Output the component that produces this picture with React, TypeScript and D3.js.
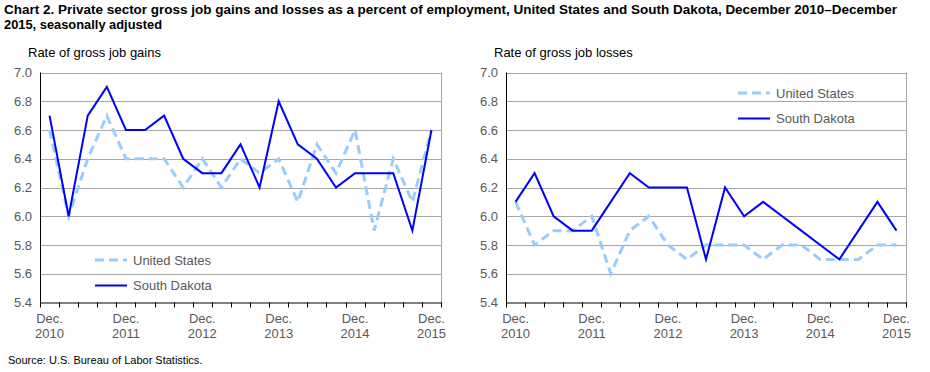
import { scaleBand, scaleLinear, line } from "d3";

const quarters = [
    "Dec. 2010", "Mar. 2011", "Jun. 2011", "Sep. 2011",
    "Dec. 2011", "Mar. 2012", "Jun. 2012", "Sep. 2012",
    "Dec. 2012", "Mar. 2013", "Jun. 2013", "Sep. 2013",
    "Dec. 2013", "Mar. 2014", "Jun. 2014", "Sep. 2014",
    "Dec. 2014", "Mar. 2015", "Jun. 2015", "Sep. 2015",
    "Dec. 2015",
];

const gainsUS = [6.6, 6.0, 6.4, 6.7, 6.4, 6.4, 6.4, 6.2, 6.4, 6.2, 6.4, 6.3, 6.4, 6.1, 6.5, 6.3, 6.6, 5.9, 6.4, 6.1, 6.6];
const gainsSD = [6.7, 6.0, 6.7, 6.9, 6.6, 6.6, 6.7, 6.4, 6.3, 6.3, 6.5, 6.2, 6.8, 6.5, 6.4, 6.2, 6.3, 6.3, 6.3, 5.9, 6.6];
const lossesUS = [6.1, 5.8, 5.9, 5.9, 6.0, 5.6, 5.9, 6.0, 5.8, 5.7, 5.8, 5.8, 5.8, 5.7, 5.8, 5.8, 5.7, 5.7, 5.7, 5.8, 5.8];
const lossesSD = [6.1, 6.3, 6.0, 5.9, 5.9, 6.1, 6.3, 6.2, 6.2, 6.2, 5.7, 6.2, 6.0, 6.1, 6.0, 5.9, 5.8, 5.7, 5.9, 6.1, 5.9];

const yTicks = [5.4, 5.6, 5.8, 6.0, 6.2, 6.4, 6.6, 6.8, 7.0];

const US_COLOR = "#99CCFF";
const SD_COLOR = "#0000FF";
const TEXT_GRAY = "#595959";
const FONT = "'Liberation Sans', Arial, sans-serif";

interface PanelProps {
    x0: number;
    x1: number;
    title: string;
    us: number[];
    sd: number[];
    legendX: number;
    legendY: number;
}

const Panel = ({ x0, x1, title, us, sd, legendX, legendY }: PanelProps) => {
    const top = 72.5;
    const bottom = 302.5;
    const scaleX = scaleBand<string>().domain(quarters).range([x0, x1]).padding(0);
    const scaleY = scaleLinear().domain([5.4, 7.0]).range([bottom, top]);
    const cx = (q: string) => (scaleX(q) ?? 0) + scaleX.bandwidth() / 2;
    const path = line<number>()
        .x((_, i) => cx(quarters[i]))
        .y((d) => scaleY(d));

    const boundaries = quarters.map((q) => scaleX(q) ?? 0).concat([x1]);

    return (
        <g fontFamily={FONT}>
            <text x={x0 - 12} y={57} fontSize={13} fill="#000">{title}</text>
            {yTicks.filter((t) => t > 5.4).map((t) => (
                <line key={`g-${t}`} x1={x0} x2={x1} y1={Math.round(scaleY(t)) + 0.5} y2={Math.round(scaleY(t)) + 0.5} stroke="#A6A6A6" strokeWidth={1} />
            ))}
            <line x1={x1 + 0.5} x2={x1 + 0.5} y1={top} y2={bottom} stroke="#A6A6A6" strokeWidth={1} />
            {yTicks.map((t) => (
                <text key={`yl-${t}`} x={x0 - 8} y={scaleY(t)} dy="0.35em" textAnchor="end" fontSize={13} fill={TEXT_GRAY}>
                    {t.toFixed(1)}
                </text>
            ))}
            {boundaries.map((b, i) => (
                <line key={`t-${i}`} x1={Math.round(b) + 0.5} x2={Math.round(b) + 0.5} y1={bottom} y2={bottom + 5} stroke="#000" strokeWidth={1} />
            ))}
            <line x1={x0 + 0.5} x2={x0 + 0.5} y1={top} y2={bottom} stroke="#000" strokeWidth={1} />
            <line x1={x0} x2={x1 + 1} y1={bottom + 0.5} y2={bottom + 0.5} stroke="#000" strokeWidth={1} />
            {quarters.map((q, i) => i % 4 === 0 ? (
                <text key={`xl-${q}`} x={cx(q)} y={323} textAnchor="middle" fontSize={13} fill={TEXT_GRAY}>
                    <tspan x={cx(q)}>{q.split(" ")[0]}</tspan>
                    <tspan x={cx(q)} dy={15}>{q.split(" ")[1]}</tspan>
                </text>
            ) : null)}
            <path d={path(us) ?? ""} fill="none" stroke={US_COLOR} strokeWidth={3} strokeDasharray="9 5" />
            <path d={path(sd) ?? ""} fill="none" stroke={SD_COLOR} strokeWidth={2} />
            <line x1={legendX} x2={legendX + 32} y1={legendY} y2={legendY} stroke={US_COLOR} strokeWidth={3} strokeDasharray="9 5" />
            <text x={legendX + 38} y={legendY} dy="0.35em" fontSize={13} fill={TEXT_GRAY}>United States</text>
            <line x1={legendX} x2={legendX + 32} y1={legendY + 25.5} y2={legendY + 25.5} stroke={SD_COLOR} strokeWidth={2} />
            <text x={legendX + 38} y={legendY + 25.5} dy="0.35em" fontSize={13} fill={TEXT_GRAY}>South Dakota</text>
        </g>
    );
}

export default function App() {
    return (
        <svg width={930} height={372} style={{ position: "absolute", left: 0, top: 0, background: "#fff" }}>
            <g fontFamily={FONT} fontWeight="bold" fontSize={12}>
                <text x={4} y={14} textLength={893} lengthAdjust="spacingAndGlyphs">
                    Chart 2. Private sector gross  job gains and losses  as a percent of employment, United States and South Dakota, December 2010–December
                </text>
                <text x={4} y={29} textLength={158} lengthAdjust="spacingAndGlyphs">2015, seasonally adjusted</text>
            </g>
            <Panel x0={40} x1={441} title="Rate of gross job gains" us={gainsUS} sd={gainsSD} legendX={95} legendY={260} />
            <Panel x0={506} x1={906} title="Rate of gross job losses" us={lossesUS} sd={lossesSD} legendX={738} legendY={93} />
            <text x={8} y={360} dy="0.35em" fontFamily={FONT} fontSize={11} fill="#000">Source: U.S. Bureau of Labor Statistics.</text>
        </svg>
    );
}
